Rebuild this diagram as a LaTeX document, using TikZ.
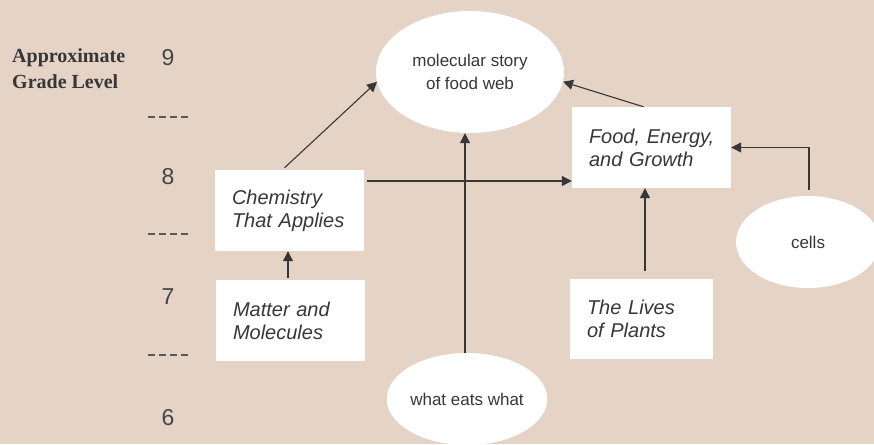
\documentclass[tikz,border=0pt]{standalone}
\usepackage{fontspec}
\setmainfont{Liberation Sans}
\newfontfamily\gradeserif{Liberation Serif}
\usetikzlibrary{arrows.meta,shapes.geometric,calc}
\definecolor{bg}{RGB}{229,211,198}
\definecolor{ink}{RGB}{55,55,55}
\definecolor{numc}{RGB}{70,70,70}
\begin{document}
\begin{tikzpicture}[x=1pt,y=-1pt,
  titletext/.style={font={\gradeserif\bfseries\fontsize{20}{25}\selectfont},text=ink,align=left,inner sep=0pt,anchor=base west},
  gradenum/.style={font={\fontsize{23}{23}\selectfont},text=numc,inner sep=0pt,anchor=base},
  sep/.style={draw=numc!90,line width=1.1pt,dash pattern=on 7pt off 4pt},
  unitbox/.style={rectangle,fill=white,draw=none,inner xsep=17pt,inner ysep=0pt,align=left,
    text=ink,font={\itshape\fontsize{20}{23}\selectfont}},
  idea/.style={ellipse,fill=white,draw=none,inner sep=0pt,align=center,text=ink,
    font={\fontsize{17}{23}\selectfont}},
  arr/.style={draw=ink,line width=1.1pt,-{Triangle[length=10pt,width=10pt]}}]
\path[fill=bg,use as bounding box] (0,0) rectangle (874,444);

% grade labels
\node[titletext] (title) at (12,88) {Approximate\\Grade Level};
\node[gradenum] (g9) at (168,65) {9};
\node[gradenum] (g8) at (168,184) {8};
\node[gradenum] (g7) at (168,304) {7};
\node[gradenum] (g6) at (168,425) {6};
\coordinate (s1a) at (148,117); \coordinate (s1b) at (189,117);
\coordinate (s2a) at (148,234); \coordinate (s2b) at (189,234);
\coordinate (s3a) at (148,355); \coordinate (s3b) at (189,355);
\draw[sep] (s1a) -- (s1b);
\draw[sep] (s2a) -- (s2b);
\draw[sep] (s3a) -- (s3b);

% idea ellipses
\node[idea,minimum width=188pt,minimum height=122pt] (mol) at (470,72) {molecular story\\of food web};
\node[idea,minimum width=144pt,minimum height=92pt] (cells) at (808,242) {cells};
\node[idea,minimum width=149pt,minimum height=92pt] (wew) at (467,399) {what eats what};

% unit boxes
\node[unitbox,text width=115pt,minimum height=81pt] (chem) at (289.5,210.5) {\mbox{Chemistry}\\\mbox{That Applies}};
\node[unitbox,text width=115pt,minimum height=81pt] (matter) at (290.5,320.5) {\mbox{Matter and}\\\mbox{Molecules}};
\node[unitbox,text width=125pt,minimum height=81pt] (food) at (651.5,147.5) {\mbox{Food, Energy,}\\\mbox{and Growth}};
\node[unitbox,text width=109pt,minimum height=80pt] (lives) at (641.5,319) {\mbox{The Lives}\\\mbox{of Plants}};

% connectors
\draw[arr] ([xshift=-5pt,yshift=2pt]chem.north) -- (mol.186);
\draw[arr] ([xshift=-8pt]food.north) -- (mol.-6);
\draw[arr] ([xshift=3pt,yshift=29.5pt]chem.east) -- ([yshift=29.5pt]chem.east -| food.west);
\draw[arr] ([xshift=-2pt]wew.north) -- ([xshift=-2pt]wew.north |- mol.south);
\draw[arr] ([xshift=-2.5pt,yshift=2pt]matter.north) -- ([xshift=-2.5pt]matter.north |- chem.south);
\draw[arr] ([xshift=3.5pt,yshift=8pt]lives.north) -- ([xshift=3.5pt]lives.north |- food.south);
\draw[arr] ([xshift=1pt,yshift=6pt]cells.north) |- (food.east);
\end{tikzpicture}
\end{document}
